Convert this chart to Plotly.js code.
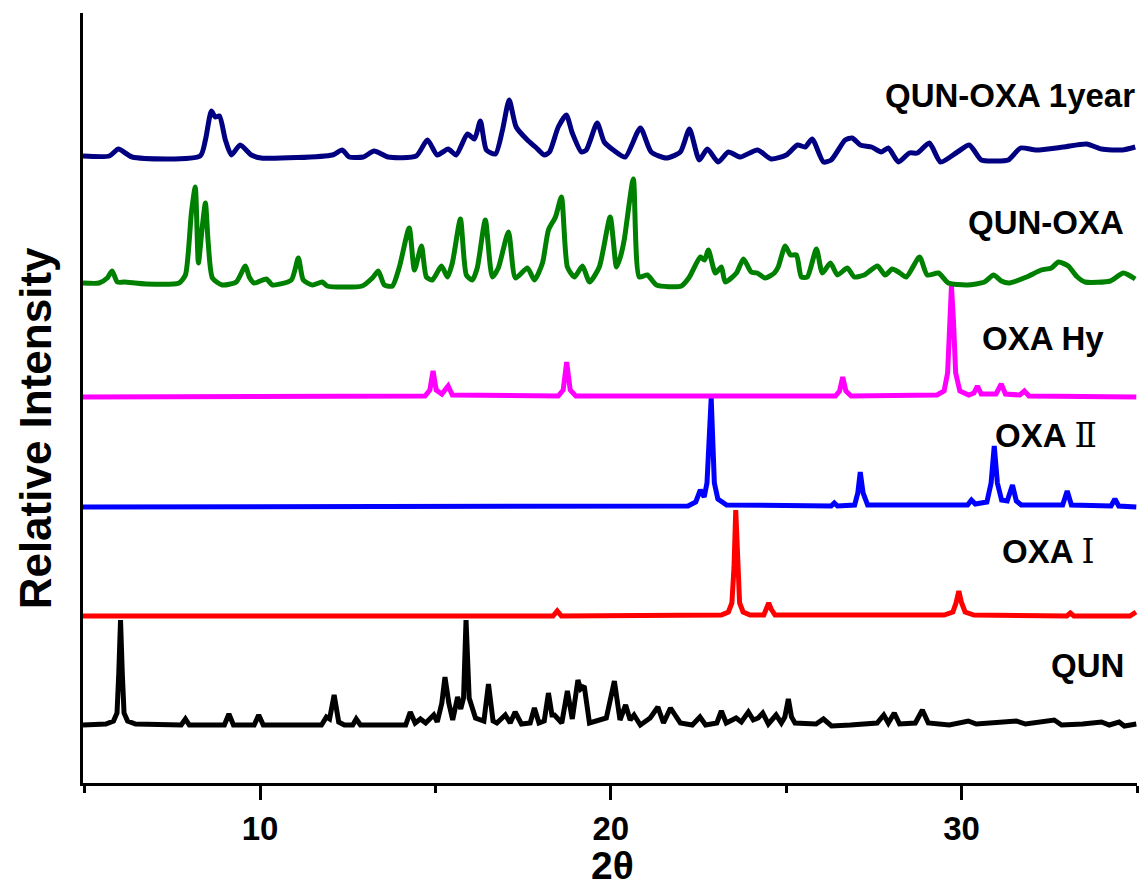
<!DOCTYPE html>
<html>
<head>
<meta charset="utf-8">
<script src="https://cdn.plot.ly/plotly-3.0.1.min.js"></script>
<style>html,body{margin:0;padding:0;background:#fff;}#chart{width:1147px;height:891px;}</style>
</head>
<body>
<div id="chart"></div>
<script>
// ---- Data (2θ, relative intensity incl. stacking offset) ----
const seriesNames = ["QUN", "OXA Ⅰ", "OXA Ⅱ", "OXA Hy", "QUN-OXA", "QUN-OXA 1year"];

const x_qun = [4.95,5.6,5.82,5.92,5.97,6.02,6.07,6.12,6.22,6.45,7.75,7.87,7.98,8.98,9.11,9.24,9.83,9.96,10.09,11.75,11.89,11.98,12.11,12.24,12.4,12.64,12.74,12.86,14.15,14.28,14.42,14.57,14.72,14.95,15.05,15.18,15.27,15.38,15.49,15.63,15.72,15.8,15.87,15.96,16.14,16.38,16.51,16.64,16.75,16.99,17.13,17.27,17.45,17.7,17.82,17.95,18.1,18.22,18.32,18.39,18.6,18.76,18.9,19.06,19.14,19.24,19.39,19.87,20.1,20.26,20.42,20.55,20.66,20.84,21.12,21.34,21.5,21.7,21.83,21.98,22.32,22.54,22.7,23.02,23.15,23.29,23.57,23.72,23.92,24.06,24.2,24.33,24.49,24.71,24.86,24.96,25.06,25.15,25.25,25.85,26.06,26.29,26.83,27.31,27.59,27.78,27.91,28.08,28.23,28.68,28.88,29.05,29.65,30.19,30.42,31.56,31.82,32.64,32.85,33.45,33.99,34.21,34.49,34.64,34.98];
const y_qun = [58,59,62,70,110,163,110,70,62,59,58,64,58,58,69,58,58,68,58,58,66,64,88,61,58,58,64,58,58,71,60,64,60,68,61,80,106,80,63,86,74,85,163,85,65,62,99,62,60,68,60,71,59,60,75,60,62,90,68,68,60,92,64,103,94,97,60,65,102,63,78,63,68,58,65,76,60,75,68,60,58,66,58,60,72,60,65,61,71,63,65,70,59,68,60,66,84,66,60,59,64,57,58,60,60,68,60,70,59,60,73,60,58,62,59,62,59,63,58,59,61,58,61,57,59];

const x_oxa1 = [4.95,18.35,18.47,18.59,23.15,23.35,23.45,23.51,23.56,23.61,23.67,23.77,23.97,24.36,24.44,24.5,24.57,24.68,29.5,29.75,29.84,29.92,30.0,30.1,30.35,33.0,33.1,33.2,34.8,34.97];
const y_oxa1 = [167,167,172,167,168,171,180,215,273,215,180,171,168,168,174,180,174,168,168,171,180,192,180,171,168,167,170,167,167,171];

const x_oxa2 = [4.95,22.2,22.42,22.55,22.66,22.74,22.86,22.95,23.05,23.3,26.28,26.37,26.46,26.95,27.04,27.11,27.19,27.32,29.3,30.17,30.28,30.39,30.72,30.84,30.93,31.02,31.14,31.3,31.45,31.56,31.7,32.88,33.01,33.13,34.26,34.37,34.48,34.98];
const y_oxa2 = [276,277,281,293,286,300,385,300,284,278,277,280,277,278,290,311,290,278,278,278,283,279,281,300,337,300,283,282,298,282,278,278,292,278,277,284,277,276];

const x_hy = [4.95,14.7,14.84,14.93,15.02,15.18,15.36,15.48,18.5,18.64,18.74,18.84,19.0,26.4,26.52,26.61,26.7,26.85,29.3,29.5,29.6,29.66,29.71,29.77,29.83,29.95,30.2,30.35,30.45,30.56,30.98,31.13,31.25,31.66,31.79,31.92,34.98];
const y_hy = [386,387,393,412,393,389,397,388,387,393,421,393,387,387,392,406,392,387,388,392,410,460,497,460,410,392,388,390,397,389,389,399,389,388,392,387,386];

const x_qo = [4.95,5.41,5.64,5.78,5.93,6.13,6.75,7.69,7.87,8.04,8.15,8.24,8.35,8.44,8.52,8.64,8.92,9.32,9.58,9.69,9.83,10.18,10.35,10.89,11.09,11.23,11.49,11.77,11.91,12.91,13.2,13.37,13.54,13.77,13.97,14.25,14.4,14.6,14.74,14.91,15.17,15.34,15.48,15.71,15.88,16.05,16.19,16.42,16.62,16.79,17.08,17.28,17.62,17.82,18.05,18.22,18.42,18.59,18.76,18.96,19.19,19.39,19.67,19.98,20.16,20.27,20.38,20.64,20.81,21.04,21.3,22.01,22.24,22.55,22.67,22.78,22.98,23.15,23.26,23.58,23.78,24.0,24.17,24.4,24.66,24.77,24.97,25.12,25.29,25.43,25.6,25.86,26.03,26.26,26.46,26.74,26.94,27.22,27.6,27.82,28.02,28.2,28.42,28.8,29.02,29.34,29.62,30.16,30.65,30.91,31.13,31.36,31.85,32.27,32.56,32.76,33.04,33.3,33.52,34.24,34.61,34.95];
const y_qo = [500,500,505,512,501,501,499,500,508,570,596,520,556,580,540,505,498,501,517,506,500,504,498,503,525,503,498,501,497,497,505,512,498,497,516,555,513,537,506,503,517,506,520,564,508,503,515,563,506,515,551,505,515,503,520,553,566,586,516,506,517,501,516,566,516,526,543,604,506,508,498,497,506,526,523,533,510,516,501,510,524,511,510,505,510,516,537,528,528,506,506,534,510,520,508,515,506,508,517,508,514,511,506,526,508,510,500,498,501,508,502,500,506,513,515,521,517,506,501,502,510,504];

const x_1y = [4.95,5.7,5.96,6.35,8.29,8.44,8.61,8.72,8.84,9.01,9.18,9.43,9.75,10.03,12.06,12.34,12.54,12.94,13.25,13.65,14.45,14.77,15.05,15.36,15.59,15.91,16.11,16.28,16.45,16.71,16.91,17.1,17.3,17.62,17.85,18.1,18.25,18.5,18.73,18.9,19.16,19.3,19.61,19.81,20.07,20.41,20.84,21.15,21.58,21.98,22.24,22.52,22.75,23.06,23.35,23.69,24.18,24.57,25.0,25.32,25.54,25.74,26.06,26.28,26.68,26.88,27.11,27.43,27.71,27.91,28.2,28.51,28.74,29.08,29.4,29.88,30.22,30.56,30.96,31.33,31.68,32.13,32.9,33.56,33.99,34.58,34.95];
const y_1y = [627,627,634,626,627,643,672,666,667,643,628,638,628,625,628,633,626,626,632,626,627,643,628,634,628,649,644,662,633,629,653,683,656,643,636,628,631,656,668,650,631,633,660,641,633,626,655,631,625,631,654,623,634,621,631,626,633,624,628,638,636,644,621,623,643,645,638,636,631,635,621,630,630,640,621,631,638,623,622,623,635,633,636,639,634,633,636];

const xTickVals = [10, 20, 30];
const xTickText = ["10", "20", "30"];

// ---- Styling ----
const colors = ["#000000", "#FF0000", "#0000FF", "#FF00FF", "#008000", "#000080"];
const shapes = ["linear", "linear", "linear", "linear", "spline", "spline"];
const FONT = "Liberation Sans, Arial, Helvetica, sans-serif";

const xs = [x_qun, x_oxa1, x_oxa2, x_hy, x_qo, x_1y];
const ys = [y_qun, y_oxa1, y_oxa2, y_hy, y_qo, y_1y];

const traces = xs.map((x, i) => ({
  type: "scatter", mode: "lines", x: x, y: ys[i], name: seriesNames[i],
  line: {color: colors[i], width: 5, shape: shapes[i], smoothing: 0.6},
  hoverinfo: "skip"
}));

// label anchor positions (right edge, vertical middle) in data coords
const labelPos = [
  {x: 34.7, y: 118}, {x: 33.87, y: 232}, {x: 33.93, y: 348},
  {x: 34.13, y: 445}, {x: 34.7, y: 561}, {x: 35.0, y: 688}
];
const labelText = [
  "QUN",
  "OXA <span style=\"font-family:'DejaVu Serif',serif;font-weight:normal\">Ⅰ</span>",
  "OXA <span style=\"font-family:'DejaVu Serif',serif;font-weight:normal\">Ⅱ</span>",
  "OXA Hy", "QUN-OXA", "QUN-OXA 1year"
];

const annotations = labelPos.map((p, i) => ({
  x: p.x, y: p.y, xref: "x", yref: "y", text: labelText[i],
  showarrow: false, xanchor: "right", yanchor: "middle",
  font: {family: FONT, size: 33, color: "#000", weight: "bold"}
}));
annotations.push({
  text: "Relative Intensity", xref: "paper", yref: "paper",
  x: -0.045, y: 0.46, textangle: -90, showarrow: false,
  xanchor: "center", yanchor: "middle",
  font: {family: FONT, size: 44, color: "#000", weight: "bold"}
});
annotations.push({
  text: "2θ", xref: "x", yref: "paper", x: 20.05, y: -0.107,
  showarrow: false, xanchor: "center", yanchor: "middle",
  font: {family: FONT, size: 39, color: "#000", weight: "bold"}
});

const layout = {
  width: 1147, height: 891,
  margin: {l: 83, r: 10, t: 13, b: 108},
  paper_bgcolor: "#fff", plot_bgcolor: "#fff",
  showlegend: false,
  xaxis: {
    range: [4.95, 35.0], showgrid: false, zeroline: false,
    showline: true, linecolor: "#000", linewidth: 3,
    ticks: "outside", ticklen: 14, tickwidth: 3, tickcolor: "#000",
    tickvals: xTickVals, ticktext: xTickText,
    tickfont: {family: FONT, size: 33, color: "#000", weight: "bold"},
    minor: {tickvals: [5, 15, 25, 35], ticks: "outside", ticklen: 7, tickwidth: 3, tickcolor: "#000", showgrid: false}
  },
  yaxis: {
    range: [0, 770], showgrid: false, zeroline: false,
    showline: true, linecolor: "#000", linewidth: 3,
    ticks: "", showticklabels: false
  },
  annotations: annotations
};

Plotly.newPlot("chart", traces, layout, {displayModeBar: false, staticPlot: true});
</script>
</body>
</html>
